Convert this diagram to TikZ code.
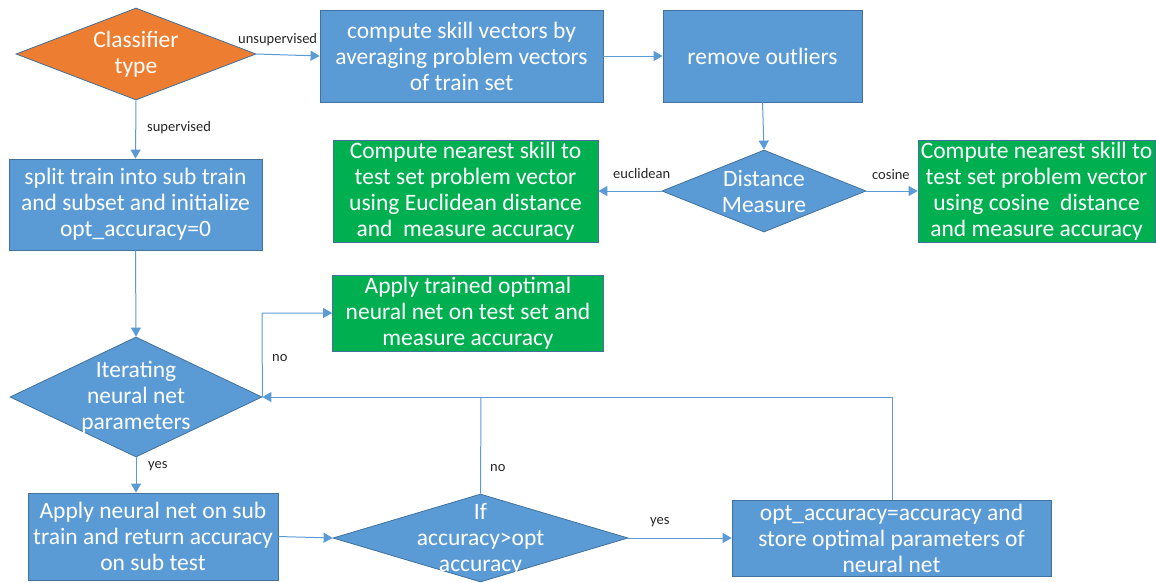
\documentclass[tikz,border=0pt]{standalone}
\usepackage{fontspec}
\setmainfont{Carlito}
\usetikzlibrary{shapes.geometric,arrows.meta}
\definecolor{bfill}{HTML}{5B9BD5}
\definecolor{bdraw}{HTML}{41719C}
\definecolor{gfill}{HTML}{00B050}
\definecolor{ofill}{HTML}{ED7D31}
\definecolor{lbl}{HTML}{262626}
\tikzset{
  box/.style={rectangle, draw=bdraw, line width=0.8pt, fill=bfill, text=white, inner sep=0pt, align=center, font=\fontsize{23.5}{26}\selectfont},
  gbox/.style={box, fill=gfill},
  dia/.style={diamond, draw=bdraw, line width=0.8pt, fill=bfill, inner sep=0pt},
  dtxt/.style={text=white, align=center, font=\fontsize{23.5}{26}\selectfont},
  conn/.style={draw=bfill, line width=1pt, -{Triangle[length=9pt,width=10pt]}},
  line/.style={draw=bfill, line width=1pt},
  lab/.style={text=lbl, font=\fontsize{14.5}{16}\selectfont, inner sep=0pt},
}
\begin{document}
\begin{tikzpicture}[x=1pt,y=-1pt]
\useasboundingbox (0,0) rectangle (1156,582);
\begin{scope}
\clip (0,0) rectangle (1156,582);
% nodes
\node[dia, fill=ofill, minimum width=240pt, minimum height=92pt, label={[dtxt]center:{Classifier\\type}}] (cls) at (136,54) {};
\node[box, minimum width=283pt, minimum height=92pt] (skill) at (461.5,56) {compute skill vectors by\\averaging problem vectors\\of train set};
\node[box, minimum width=199pt, minimum height=92pt] (outl) at (762.5,56) {remove outliers};
\node[dia, minimum width=204pt, minimum height=82pt, label={[dtxt]center:{Distance\\Measure}}] (dist) at (764,191) {};
\node[gbox, minimum width=265pt, minimum height=102pt] (euc) at (465.5,191) {Compute nearest skill to\\test set problem vector\\using Euclidean distance\\and\ \ measure accuracy};
\node[gbox, minimum width=237pt, minimum height=102pt] (cos) at (1036.5,191) {Compute nearest skill to\\test set problem vector\\using cosine\ \ distance\\and measure accuracy};
\node[box, minimum width=253pt, minimum height=91pt] (split) at (135.5,204.5) {split train into sub train\\and subset and initialize\\opt\_accuracy=0};
\node[dia, minimum width=252pt, minimum height=120pt, label={[dtxt]center:{Iterating\\neural net\\parameters}}] (iter) at (136,397) {};
\node[gbox, minimum width=271pt, minimum height=76pt] (final) at (468,313) {Apply trained optimal\\neural net on test set and\\measure accuracy};
\node[box, minimum width=250pt, minimum height=87pt] (apply) at (153,536.5) {Apply neural net on sub\\train and return accuracy\\on sub test};
\node[dia, minimum width=295pt, minimum height=88pt, label={[dtxt, yshift=-1pt]center:{If\\accuracy>opt\\accuracy}}] (ifacc) at (480.5,538) {};
\node[box, minimum width=319pt, minimum height=76pt] (opt) at (891.5,538) {opt\_accuracy=accuracy and\\store optimal parameters of\\neural net};
\coordinate (c1) at (262,313);
\coordinate (c2) at (481,397);
\coordinate (c3) at (892,397);
% connectors
\draw[conn] (cls.east) -- (skill.west);
\draw[conn] (skill.east) -- (outl.west);
\draw[conn] (outl.south) -- (dist.north);
\draw[conn] (dist.west) -- (euc.east);
\draw[conn] (dist.east) -- (cos.west);
\draw[conn] (cls.south) -- (split.north);
\draw[conn] (split.south) -- (iter.north);
\draw[conn] (iter.east) -- (c1) -- (final.west);
\draw[conn] (iter.south) -- (iter.south |- apply.north);
\draw[conn] (apply.east) -- (ifacc.west);
\draw[conn] (ifacc.east) -- (opt.west);
\draw[line] (ifacc.north) -- (c2);
\draw[conn] (opt.north -| c3) -- (c3) -- (iter.east);
% labels
\node[lab, anchor=west] (l1) at (238,40) {unsupervised};
\node[lab, anchor=west] (l2) at (147,128) {supervised};
\node[lab, anchor=west] (l3) at (613,174) {euclidean};
\node[lab, anchor=west] (l4) at (872,175) {cosine};
\node[lab, anchor=west] (l5) at (272,358) {no};
\node[lab, anchor=west] (l6) at (148,466) {yes};
\node[lab, anchor=west] (l7) at (490,468) {no};
\node[lab, anchor=west] (l8) at (650,522) {yes};
\end{scope}
\end{tikzpicture}
\end{document}
